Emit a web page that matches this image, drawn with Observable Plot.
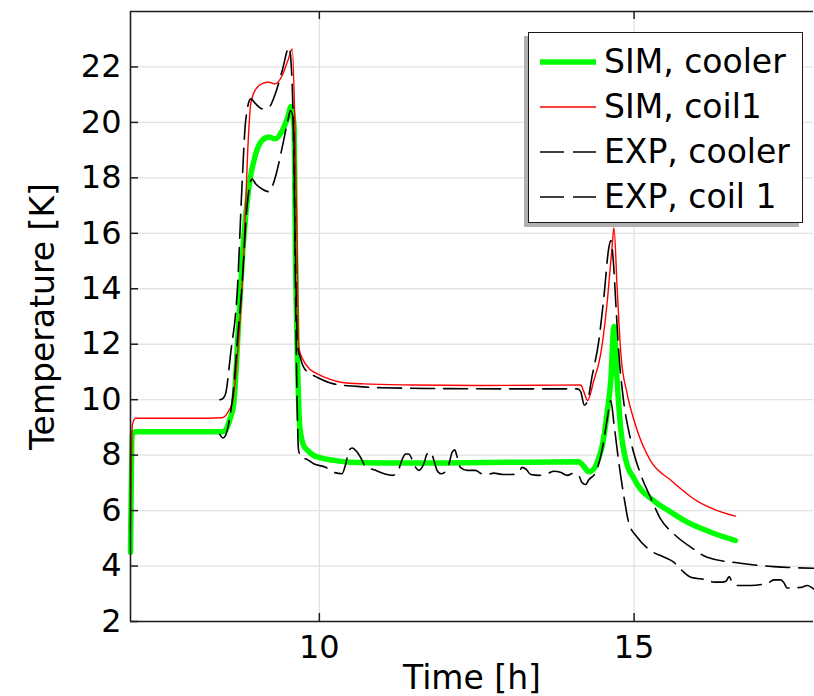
<!DOCTYPE html>
<html><head><meta charset="utf-8">
<script src="https://cdn.jsdelivr.net/npm/d3@7"></script>
<script src="https://cdn.jsdelivr.net/npm/@observablehq/plot@0.6"></script>
<style>
body{margin:0;background:#fff;}
#wrap{position:relative;width:814px;height:696px;font-family:"DejaVu Sans",sans-serif;}
#legend{position:absolute;left:528px;top:32px;width:275px;height:191px;box-sizing:border-box;border:1.5px solid #1a1a1a;background:#fff;box-shadow:-4px 4px 0 #b0b0b0;padding-top:6px;}
.row{height:45px;display:flex;align-items:center;font-size:33px;color:#000;white-space:nowrap;}
.row svg{margin-left:11px;margin-right:8px;flex:none;}
</style></head><body><div id="wrap"></div>
<script>
// ---- data ----
const xTicks = [10, 15];
const yTicks = [2, 4, 6, 8, 10, 12, 14, 16, 18, 20, 22];
const xDomain = [7, 17.85];
const yDomain = [2, 24];
const xLabel = "Time [h]";
const yLabel = "Temperature [K]";
const seriesNames = ["SIM, cooler", "SIM, coil1", "EXP, cooler", "EXP, coil 1"];

const coolerSimX = [7.0, 7.03, 7.08, 8.0, 8.45, 8.51, 8.58, 8.64, 8.72, 8.80, 8.88, 8.99, 9.09, 9.20, 9.30, 9.41, 9.50, 9.55, 9.60, 9.62, 9.65, 9.69, 9.75, 9.81, 9.90, 10.02, 10.23, 10.50, 11.0, 12.0, 13.0, 14.12, 14.20, 14.28, 14.36, 14.44, 14.50, 14.57, 14.63, 14.68, 14.73, 14.79, 14.87, 15.0, 15.11, 15.26, 15.38, 15.58, 15.80, 16.22, 16.61];
const coolerSimY = [4.5, 8.75, 8.84, 8.84, 8.84, 8.9, 9.3, 9.85, 12.85, 15.86, 17.66, 18.87, 19.35, 19.47, 19.41, 19.7, 20.2, 20.57, 19.8, 15.3, 11.66, 9.0, 8.35, 8.18, 8.0, 7.9, 7.81, 7.74, 7.72, 7.72, 7.74, 7.76, 7.6, 7.4, 7.5, 7.9, 8.4, 9.49, 10.69, 12.64, 10.69, 8.89, 7.81, 7.15, 6.75, 6.45, 6.24, 5.95, 5.64, 5.22, 4.92];

const coilSimX = [7.0, 7.03, 7.08, 8.0, 8.45, 8.51, 8.56, 8.62, 8.72, 8.80, 8.86, 8.91, 8.99, 9.09, 9.20, 9.30, 9.41, 9.50, 9.57, 9.61, 9.65, 9.67, 9.75, 9.85, 9.97, 10.15, 10.34, 10.7, 11.5, 12.5, 13.5, 14.15, 14.20, 14.26, 14.36, 14.47, 14.57, 14.65, 14.68, 14.73, 14.79, 14.89, 15.0, 15.05, 15.26, 15.58, 15.90, 16.01, 16.30, 16.61];
const coilSimY = [5.3, 9.1, 9.33, 9.33, 9.35, 9.42, 9.6, 9.9, 12.25, 15.26, 18.87, 20.67, 21.2, 21.4, 21.45, 21.39, 21.69, 22.23, 22.65, 20.07, 15.27, 11.9, 11.4, 11.1, 10.93, 10.75, 10.63, 10.57, 10.53, 10.51, 10.52, 10.53, 10.3, 9.97, 10.69, 11.65, 13.46, 15.5, 16.2, 14.06, 11.65, 10.21, 9.25, 8.89, 7.8, 7.1, 6.5, 6.33, 6.02, 5.80];

const coolerExpX = [8.42, 8.47, 8.51, 8.58, 8.64, 8.70, 8.77, 8.85, 8.93, 8.99, 9.09, 9.20, 9.30, 9.41, 9.50, 9.54, 9.59, 9.62, 9.67, 9.72, 9.80, 9.91, 10.10, 10.23, 10.36, 10.42, 10.47, 10.52, 10.60, 10.68, 10.73, 10.87, 11.03, 11.16, 11.24, 11.32, 11.37, 11.42, 11.48, 11.53, 11.58, 11.66, 11.71, 11.77, 11.82, 11.87, 11.93, 12.0, 12.06, 12.11, 12.15, 12.19, 12.24, 12.35, 12.48, 12.56, 12.67, 12.77, 12.93, 13.06, 13.17, 13.22, 13.28, 13.36, 13.49, 13.62, 13.73, 13.83, 13.94, 14.04, 14.12, 14.17, 14.23, 14.28, 14.39, 14.50, 14.57, 14.63, 14.68, 14.76, 14.84, 14.92, 15.05, 15.26, 15.48, 15.63, 15.76, 15.90, 16.16, 16.27, 16.40, 16.46, 16.51, 16.56, 16.64, 16.85, 17.12, 17.22, 17.33, 17.38, 17.43, 17.65, 17.75, 17.85];
const coolerExpY = [8.75, 8.62, 8.71, 9.4, 10.45, 12.2, 14.06, 16.94, 17.96, 17.78, 17.6, 17.5, 18.02, 19.1, 20.07, 20.43, 20.07, 14.06, 8.17, 7.9, 7.85, 7.69, 7.56, 7.38, 7.33, 7.69, 8.17, 8.26, 8.11, 7.81, 7.59, 7.47, 7.33, 7.27, 7.38, 7.87, 8.04, 8.04, 7.81, 7.56, 7.45, 7.69, 8.04, 8.11, 7.81, 7.45, 7.33, 7.4, 7.69, 8.11, 8.19, 7.93, 7.56, 7.45, 7.45, 7.35, 7.30, 7.35, 7.30, 7.30, 7.38, 7.56, 7.5, 7.30, 7.27, 7.33, 7.42, 7.38, 7.27, 7.35, 7.27, 7.02, 6.94, 7.11, 7.38, 8.29, 9.25, 9.97, 9.13, 7.69, 6.48, 5.52, 5.04, 4.56, 4.32, 4.14, 3.84, 3.6, 3.5, 3.42, 3.42, 3.45, 3.62, 3.4, 3.3, 3.3, 3.38, 3.5, 3.5, 3.4, 3.21, 3.23, 3.3, 3.18];

const coilExpX = [8.42, 8.47, 8.51, 8.59, 8.70, 8.77, 8.83, 8.91, 8.99, 9.09, 9.20, 9.30, 9.41, 9.52, 9.57, 9.62, 9.65, 9.70, 9.75, 9.85, 9.97, 10.23, 10.6, 11.0, 12.0, 13.0, 14.10, 14.15, 14.21, 14.26, 14.33, 14.44, 14.52, 14.60, 14.63, 14.67, 14.71, 14.76, 14.82, 14.94, 15.10, 15.26, 15.42, 15.63, 15.90, 16.16, 16.69, 17.22, 17.85];
const coilExpY = [10.0, 10.05, 10.21, 11.65, 14.06, 17.66, 20.07, 20.85, 20.67, 20.49, 20.55, 21.03, 21.87, 22.71, 21.27, 15.26, 12.0, 11.5, 11.17, 10.95, 10.8, 10.57, 10.48, 10.43, 10.40, 10.39, 10.39, 10.3, 9.8, 9.95, 10.81, 12.13, 13.7, 15.5, 15.74, 15.0, 13.46, 11.6, 10.2, 8.6, 7.33, 6.48, 5.7, 5.16, 4.68, 4.32, 4.10, 3.98, 3.92];

// ---- styles ----
const styles = [
  {stroke: "#00ff00", width: 5.5, dash: null},
  {stroke: "#ff0000", width: 1.4, dash: null},
  {stroke: "#000000", width: 1.6, dash: "24,9"},
  {stroke: "#000000", width: 1.6, dash: "24,9"}
];
const seriesXY = [[coolerSimX, coolerSimY], [coilSimX, coilSimY], [coolerExpX, coolerExpY], [coilExpX, coilExpY]];

const lineMarks = seriesXY.map(([xs, ys], k) =>
  Plot.line(xs.map((x, i) => ({x, y: ys[i]})), {
    x: "x", y: "y", stroke: styles[k].stroke, strokeWidth: styles[k].width,
    strokeDasharray: styles[k].dash, curve: "monotone-x", strokeLinejoin: "round"
  }));

const frameColor = "#1e1e1e";
const chart = Plot.plot({
  width: 814, height: 696,
  marginLeft: 130, marginRight: 1, marginTop: 11, marginBottom: 75,
  x: {domain: xDomain},
  y: {domain: yDomain},
  style: {fontFamily: "DejaVu Sans, sans-serif", background: "#fff", color: "#000"},
  marks: [
    Plot.gridX(xTicks, {stroke: "#e2e2e2", strokeOpacity: 1, strokeWidth: 1.3}),
    Plot.gridY(yTicks, {stroke: "#e2e2e2", strokeOpacity: 1, strokeWidth: 1.3}),
    ...lineMarks,
    Plot.ruleX(xTicks, {x: d => d, insetTop: 602, stroke: frameColor, strokeWidth: 1.5}),
    Plot.ruleX(xTicks, {x: d => d, insetBottom: 602, stroke: frameColor, strokeWidth: 1.5}),
    Plot.ruleY(yTicks, {y: d => d, insetRight: 675, stroke: frameColor, strokeWidth: 1.5}),
    Plot.ruleX([xDomain[0]], {stroke: frameColor, strokeWidth: 1.6}),
    Plot.ruleY(yDomain, {stroke: frameColor, strokeWidth: 1.6}),
    Plot.axisX({ticks: xTicks, tickSize: 0, tickPadding: 14, fontSize: 32, label: null}),
    Plot.axisY({ticks: yTicks, tickSize: 0, tickPadding: 9, fontSize: 32, label: null}),
    Plot.text([xLabel], {text: d => d, frameAnchor: "bottom", dy: 57, lineAnchor: "middle", textAnchor: "middle", fontSize: 33}),
    Plot.text([yLabel], {text: d => d, frameAnchor: "left", dx: -87, rotate: -90, lineAnchor: "middle", textAnchor: "middle", fontSize: 33})
  ]
});
const wrap = document.getElementById("wrap");
wrap.appendChild(chart);

// ---- legend ----
const legend = document.createElement("div");
legend.id = "legend";
seriesNames.forEach((name, k) => {
  const row = document.createElement("div");
  row.className = "row";
  const s = styles[k];
  row.innerHTML = `<svg width="56" height="10"><line x1="0" x2="56" y1="5" y2="5" stroke="${s.stroke}" stroke-width="${s.width}" ${s.dash ? `stroke-dasharray="${s.dash}"` : ""}/></svg><span>${name}</span>`;
  legend.appendChild(row);
});
wrap.appendChild(legend);
</script>
</body></html>
